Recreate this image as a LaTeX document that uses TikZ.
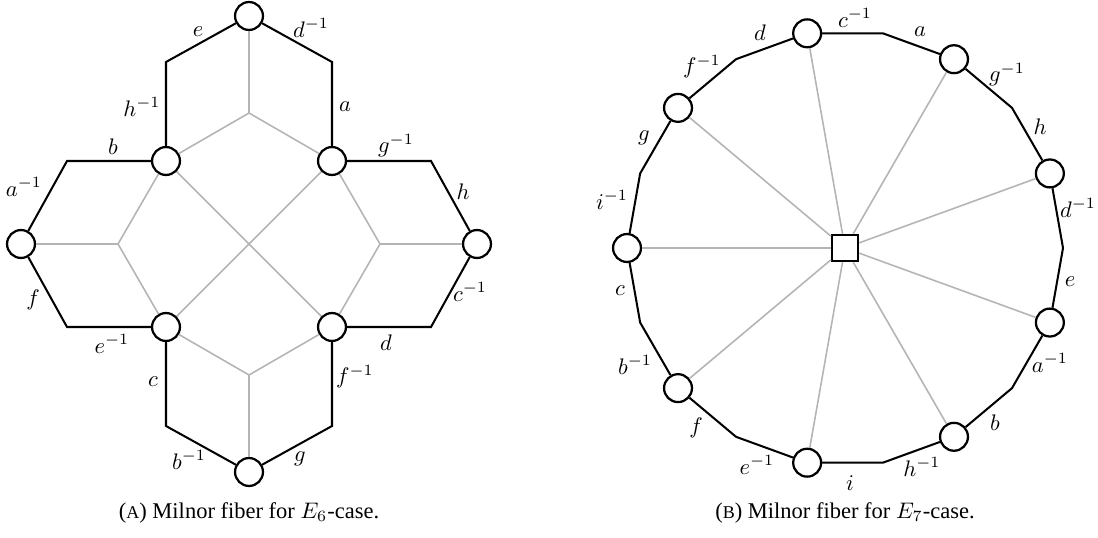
\documentclass[tikz,border=0pt]{standalone}
\usepackage{fontspec}
\setmainfont{Liberation Serif}
\usepackage{amsmath}
\usepackage{tikz}
\usetikzlibrary{positioning}
\definecolor{spokegray}{HTML}{B4B4B4}
\tikzset{
  vtx/.style={circle,draw=black,line width=1pt,minimum size=12.4pt,inner sep=0pt,fill=white},
  hub/.style={rectangle,draw=black,line width=1pt,minimum size=11.6pt,inner sep=0pt,fill=white},
  rim/.style={draw=black,line width=0.9pt,line join=miter},
  spoke/.style={draw=spokegray,line width=0.7pt},
  lab/.style={inner sep=1.5pt,font=\normalsize},
  captext/.style={font=\normalsize,inner sep=0pt}
}

\begin{document}
\begin{tikzpicture}[x=0.4444pt,y=0.4444pt]
  \useasboundingbox (0,0) rectangle (1098,537);

  \begin{scope}[shift={(249,293)}]
    \node[vtx] (AT) at (0,228) {};
    \node[vtx] (AB) at (0,-228) {};
    \node[vtx] (AL) at (-228,0) {};
    \node[vtx] (AR) at (228,0) {};
    \node[vtx] (AUL) at (-83,83) {};
    \node[vtx] (AUR) at (83,83) {};
    \node[vtx] (ALL) at (-83,-83) {};
    \node[vtx] (ALR) at (83,-83) {};
    \coordinate (Atl) at (-83,182); \coordinate (Atr) at (83,182);
    \coordinate (Alu) at (-182,83); \coordinate (Ald) at (-182,-83);
    \coordinate (Abl) at (-83,-182); \coordinate (Abr) at (83,-182);
    \coordinate (Aru) at (182,83); \coordinate (Ard) at (182,-83);
    \coordinate (Ait) at (0,131); \coordinate (Aib) at (0,-131);
    \coordinate (Ail) at (-131,0); \coordinate (Air) at (131,0);

    \draw[spoke] (AT) -- (Ait) (Ait) -- (AUL) (Ait) -- (AUR);
    \draw[spoke] (AB) -- (Aib) (Aib) -- (ALL) (Aib) -- (ALR);
    \draw[spoke] (AL) -- (Ail) (Ail) -- (AUL) (Ail) -- (ALL);
    \draw[spoke] (AR) -- (Air) (Air) -- (AUR) (Air) -- (ALR);
    \draw[spoke] (AUL) -- (ALR) (AUR) -- (ALL);

    \draw[rim] (AT) -- (Atr) -- (AUR) -- (Aru) -- (AR) -- (Ard) -- (ALR) -- (Abr) -- (AB)
      -- (Abl) -- (ALL) -- (Ald) -- (AL) -- (Alu) -- (AUL) -- (Atl) -- (AT);

    \node[lab] (Ale) at (-51,212) {$e$};
    \node[lab] (Ald1) at (62,216) {$d^{-1}$};
    \node[lab] (Alh1) at (-107,137) {$h^{-1}$};
    \node[lab] (Ala) at (96,137) {$a$};
    \node[lab] (Alb) at (-136,97) {$b$};
    \node[lab] (Alg1) at (147,98) {$g^{-1}$};
    \node[lab] (Ala1) at (-225,57) {$a^{-1}$};
    \node[lab] (Alh) at (214,52) {$h$};
    \node[lab] (Alf) at (-216,-56) {$f$};
    \node[lab] (Alc1) at (221,-48) {$c^{-1}$};
    \node[lab] (Ale1) at (-137,-100) {$e^{-1}$};
    \node[lab] (Ald) at (137,-99) {$d$};
    \node[lab] (Alc) at (-96,-138) {$c$};
    \node[lab] (Alf1) at (106,-133) {$f^{-1}$};
    \node[lab] (Alb1) at (-60,-216) {$b^{-1}$};
    \node[lab] (Alg) at (51,-215) {$g$};
  \end{scope}

  \begin{scope}[shift={(845,289)}]
    \node[hub] (hub) at (0,0) {};
    \foreach \i in {0,...,8} {
      \node[vtx] (B\i) at ({20+40*\i}:218) {};
      \coordinate (Bk\i) at ({40*\i}:218);
    }
    \foreach \i in {0,...,8}
      \draw[spoke] (hub) -- (B\i);
    \foreach \i in {1,...,8} {
      \pgfmathtruncatemacro\j{\i-1}
      \draw[rim] (B\j) -- (Bk\i) -- (B\i);
    }
    \draw[rim] (B8) -- (Bk0) -- (B0);
    \foreach \x/\y/\t in {233/40/d^{-1},195/121/h,162/173/g^{-1},75/216/a,10/230/c^{-1},
        -85/215/d,-143/181/f^{-1},-201/110/g,-233/48/i^{-1},-225/-43/c,-210/-117/b^{-1},
        -149/-180/f,-88/-217/e^{-1},5/-235/i,77/-219/h^{-1},150/-175/b,205/-115/a^{-1},225/-34/e}
      \node[lab] (Bl\x) at (\x,\y) {$\t$};
  \end{scope}

  \node[captext] (capA) at (249,24) {({\footnotesize A}) Milnor fiber for $E_6$-case.};
  \node[captext] (capB) at (845,24) {({\footnotesize B}) Milnor fiber for $E_7$-case.};
\end{tikzpicture}
\end{document}
